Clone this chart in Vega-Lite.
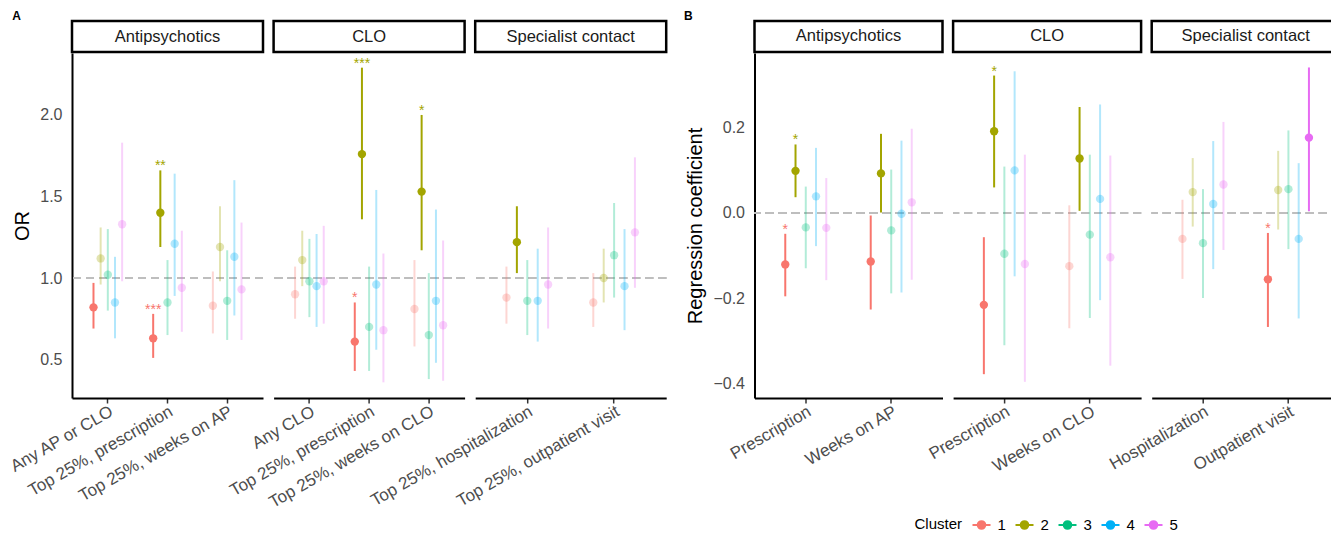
{
  "$schema": "https://vega.github.io/schema/vega-lite/v6.json",
  "padding": {"left": 6, "top": 9, "right": 0, "bottom": 4},
  "config": {
    "font": "Liberation Sans",
    "view": {"stroke": null},
    "axis": {"grid": false, "domainColor": "black", "domainWidth": 2, "labelColor": "#4D4D4D", "labelFontSize": 16, "titleFontSize": 20, "titleFontWeight": "normal", "titleColor": "black", "tickColor": "#333333", "labelLimit": 0},
    "title": {"fontSize": 12, "fontWeight": "bold", "anchor": "start", "color": "black"}
  },
  "datasets": {
    "orA": [
      {"panel": "Antipsychotics", "outcome": "Any AP or CLO", "cluster": "1", "est": 0.82, "lo": 0.69, "hi": 0.97, "sig": "yes", "star": ""},
      {"panel": "Antipsychotics", "outcome": "Any AP or CLO", "cluster": "2", "est": 1.12, "lo": 0.96, "hi": 1.31, "sig": "no", "star": ""},
      {"panel": "Antipsychotics", "outcome": "Any AP or CLO", "cluster": "3", "est": 1.02, "lo": 0.80, "hi": 1.30, "sig": "no", "star": ""},
      {"panel": "Antipsychotics", "outcome": "Any AP or CLO", "cluster": "4", "est": 0.85, "lo": 0.63, "hi": 1.13, "sig": "no", "star": ""},
      {"panel": "Antipsychotics", "outcome": "Any AP or CLO", "cluster": "5", "est": 1.33, "lo": 0.98, "hi": 1.83, "sig": "no", "star": ""},
      {"panel": "Antipsychotics", "outcome": "Top 25%, prescription", "cluster": "1", "est": 0.63, "lo": 0.51, "hi": 0.78, "sig": "yes", "star": "***"},
      {"panel": "Antipsychotics", "outcome": "Top 25%, prescription", "cluster": "2", "est": 1.40, "lo": 1.19, "hi": 1.66, "sig": "yes", "star": "**"},
      {"panel": "Antipsychotics", "outcome": "Top 25%, prescription", "cluster": "3", "est": 0.85, "lo": 0.65, "hi": 1.11, "sig": "no", "star": ""},
      {"panel": "Antipsychotics", "outcome": "Top 25%, prescription", "cluster": "4", "est": 1.21, "lo": 0.89, "hi": 1.64, "sig": "no", "star": ""},
      {"panel": "Antipsychotics", "outcome": "Top 25%, prescription", "cluster": "5", "est": 0.94, "lo": 0.67, "hi": 1.29, "sig": "no", "star": ""},
      {"panel": "Antipsychotics", "outcome": "Top 25%, weeks on AP", "cluster": "1", "est": 0.83, "lo": 0.66, "hi": 1.04, "sig": "no", "star": ""},
      {"panel": "Antipsychotics", "outcome": "Top 25%, weeks on AP", "cluster": "2", "est": 1.19, "lo": 0.98, "hi": 1.44, "sig": "no", "star": ""},
      {"panel": "Antipsychotics", "outcome": "Top 25%, weeks on AP", "cluster": "3", "est": 0.86, "lo": 0.62, "hi": 1.17, "sig": "no", "star": ""},
      {"panel": "Antipsychotics", "outcome": "Top 25%, weeks on AP", "cluster": "4", "est": 1.13, "lo": 0.77, "hi": 1.60, "sig": "no", "star": ""},
      {"panel": "Antipsychotics", "outcome": "Top 25%, weeks on AP", "cluster": "5", "est": 0.93, "lo": 0.62, "hi": 1.34, "sig": "no", "star": ""},
      {"panel": "CLO", "outcome": "Any CLO", "cluster": "1", "est": 0.90, "lo": 0.75, "hi": 1.07, "sig": "no", "star": ""},
      {"panel": "CLO", "outcome": "Any CLO", "cluster": "2", "est": 1.11, "lo": 0.95, "hi": 1.29, "sig": "no", "star": ""},
      {"panel": "CLO", "outcome": "Any CLO", "cluster": "3", "est": 0.98, "lo": 0.76, "hi": 1.24, "sig": "no", "star": ""},
      {"panel": "CLO", "outcome": "Any CLO", "cluster": "4", "est": 0.95, "lo": 0.70, "hi": 1.27, "sig": "no", "star": ""},
      {"panel": "CLO", "outcome": "Any CLO", "cluster": "5", "est": 0.98, "lo": 0.72, "hi": 1.32, "sig": "no", "star": ""},
      {"panel": "CLO", "outcome": "Top 25%, prescription", "cluster": "1", "est": 0.61, "lo": 0.43, "hi": 0.85, "sig": "yes", "star": "*"},
      {"panel": "CLO", "outcome": "Top 25%, prescription", "cluster": "2", "est": 1.76, "lo": 1.36, "hi": 2.29, "sig": "yes", "star": "***"},
      {"panel": "CLO", "outcome": "Top 25%, prescription", "cluster": "3", "est": 0.70, "lo": 0.43, "hi": 1.07, "sig": "no", "star": ""},
      {"panel": "CLO", "outcome": "Top 25%, prescription", "cluster": "4", "est": 0.96, "lo": 0.56, "hi": 1.54, "sig": "no", "star": ""},
      {"panel": "CLO", "outcome": "Top 25%, prescription", "cluster": "5", "est": 0.68, "lo": 0.36, "hi": 1.15, "sig": "no", "star": ""},
      {"panel": "CLO", "outcome": "Top 25%, weeks on CLO", "cluster": "1", "est": 0.81, "lo": 0.58, "hi": 1.11, "sig": "no", "star": ""},
      {"panel": "CLO", "outcome": "Top 25%, weeks on CLO", "cluster": "2", "est": 1.53, "lo": 1.17, "hi": 2.00, "sig": "yes", "star": "*"},
      {"panel": "CLO", "outcome": "Top 25%, weeks on CLO", "cluster": "3", "est": 0.65, "lo": 0.38, "hi": 1.03, "sig": "no", "star": ""},
      {"panel": "CLO", "outcome": "Top 25%, weeks on CLO", "cluster": "4", "est": 0.86, "lo": 0.48, "hi": 1.42, "sig": "no", "star": ""},
      {"panel": "CLO", "outcome": "Top 25%, weeks on CLO", "cluster": "5", "est": 0.71, "lo": 0.37, "hi": 1.23, "sig": "no", "star": ""},
      {"panel": "Specialist contact", "outcome": "Top 25%, hospitalization", "cluster": "1", "est": 0.88, "lo": 0.72, "hi": 1.07, "sig": "no", "star": ""},
      {"panel": "Specialist contact", "outcome": "Top 25%, hospitalization", "cluster": "2", "est": 1.22, "lo": 1.03, "hi": 1.44, "sig": "yes", "star": ""},
      {"panel": "Specialist contact", "outcome": "Top 25%, hospitalization", "cluster": "3", "est": 0.86, "lo": 0.65, "hi": 1.11, "sig": "no", "star": ""},
      {"panel": "Specialist contact", "outcome": "Top 25%, hospitalization", "cluster": "4", "est": 0.86, "lo": 0.61, "hi": 1.18, "sig": "no", "star": ""},
      {"panel": "Specialist contact", "outcome": "Top 25%, hospitalization", "cluster": "5", "est": 0.96, "lo": 0.69, "hi": 1.31, "sig": "no", "star": ""},
      {"panel": "Specialist contact", "outcome": "Top 25%, outpatient visit", "cluster": "1", "est": 0.85, "lo": 0.70, "hi": 1.03, "sig": "no", "star": ""},
      {"panel": "Specialist contact", "outcome": "Top 25%, outpatient visit", "cluster": "2", "est": 1.00, "lo": 0.85, "hi": 1.18, "sig": "no", "star": ""},
      {"panel": "Specialist contact", "outcome": "Top 25%, outpatient visit", "cluster": "3", "est": 1.14, "lo": 0.88, "hi": 1.46, "sig": "no", "star": ""},
      {"panel": "Specialist contact", "outcome": "Top 25%, outpatient visit", "cluster": "4", "est": 0.95, "lo": 0.68, "hi": 1.30, "sig": "no", "star": ""},
      {"panel": "Specialist contact", "outcome": "Top 25%, outpatient visit", "cluster": "5", "est": 1.28, "lo": 0.94, "hi": 1.74, "sig": "no", "star": ""}
    ],
    "coefB": [
      {"panel": "Antipsychotics", "outcome": "Prescription", "cluster": "1", "est": -0.121, "lo": -0.196, "hi": -0.049, "sig": "yes", "star": "*"},
      {"panel": "Antipsychotics", "outcome": "Prescription", "cluster": "2", "est": 0.099, "lo": 0.037, "hi": 0.161, "sig": "yes", "star": "*"},
      {"panel": "Antipsychotics", "outcome": "Prescription", "cluster": "3", "est": -0.034, "lo": -0.130, "hi": 0.062, "sig": "no", "star": ""},
      {"panel": "Antipsychotics", "outcome": "Prescription", "cluster": "4", "est": 0.039, "lo": -0.078, "hi": 0.153, "sig": "no", "star": ""},
      {"panel": "Antipsychotics", "outcome": "Prescription", "cluster": "5", "est": -0.035, "lo": -0.158, "hi": 0.082, "sig": "no", "star": ""},
      {"panel": "Antipsychotics", "outcome": "Weeks on AP", "cluster": "1", "est": -0.114, "lo": -0.227, "hi": -0.006, "sig": "yes", "star": ""},
      {"panel": "Antipsychotics", "outcome": "Weeks on AP", "cluster": "2", "est": 0.093, "lo": 0.001, "hi": 0.186, "sig": "yes", "star": ""},
      {"panel": "Antipsychotics", "outcome": "Weeks on AP", "cluster": "3", "est": -0.041, "lo": -0.189, "hi": 0.102, "sig": "no", "star": ""},
      {"panel": "Antipsychotics", "outcome": "Weeks on AP", "cluster": "4", "est": -0.002, "lo": -0.187, "hi": 0.170, "sig": "no", "star": ""},
      {"panel": "Antipsychotics", "outcome": "Weeks on AP", "cluster": "5", "est": 0.025, "lo": -0.157, "hi": 0.198, "sig": "no", "star": ""},
      {"panel": "CLO", "outcome": "Prescription", "cluster": "1", "est": -0.216, "lo": -0.379, "hi": -0.057, "sig": "yes", "star": ""},
      {"panel": "CLO", "outcome": "Prescription", "cluster": "2", "est": 0.192, "lo": 0.060, "hi": 0.323, "sig": "yes", "star": "*"},
      {"panel": "CLO", "outcome": "Prescription", "cluster": "3", "est": -0.096, "lo": -0.311, "hi": 0.109, "sig": "no", "star": ""},
      {"panel": "CLO", "outcome": "Prescription", "cluster": "4", "est": 0.100, "lo": -0.149, "hi": 0.333, "sig": "no", "star": ""},
      {"panel": "CLO", "outcome": "Prescription", "cluster": "5", "est": -0.120, "lo": -0.397, "hi": 0.137, "sig": "no", "star": ""},
      {"panel": "CLO", "outcome": "Weeks on CLO", "cluster": "1", "est": -0.125, "lo": -0.271, "hi": 0.018, "sig": "no", "star": ""},
      {"panel": "CLO", "outcome": "Weeks on CLO", "cluster": "2", "est": 0.128, "lo": 0.005, "hi": 0.249, "sig": "yes", "star": ""},
      {"panel": "CLO", "outcome": "Weeks on CLO", "cluster": "3", "est": -0.051, "lo": -0.247, "hi": 0.137, "sig": "no", "star": ""},
      {"panel": "CLO", "outcome": "Weeks on CLO", "cluster": "4", "est": 0.033, "lo": -0.205, "hi": 0.255, "sig": "no", "star": ""},
      {"panel": "CLO", "outcome": "Weeks on CLO", "cluster": "5", "est": -0.104, "lo": -0.359, "hi": 0.135, "sig": "no", "star": ""},
      {"panel": "Specialist contact", "outcome": "Hospitalization", "cluster": "1", "est": -0.061, "lo": -0.155, "hi": 0.031, "sig": "no", "star": ""},
      {"panel": "Specialist contact", "outcome": "Hospitalization", "cluster": "2", "est": 0.049, "lo": -0.032, "hi": 0.129, "sig": "no", "star": ""},
      {"panel": "Specialist contact", "outcome": "Hospitalization", "cluster": "3", "est": -0.071, "lo": -0.200, "hi": 0.056, "sig": "no", "star": ""},
      {"panel": "Specialist contact", "outcome": "Hospitalization", "cluster": "4", "est": 0.021, "lo": -0.132, "hi": 0.169, "sig": "no", "star": ""},
      {"panel": "Specialist contact", "outcome": "Hospitalization", "cluster": "5", "est": 0.067, "lo": -0.087, "hi": 0.214, "sig": "no", "star": ""},
      {"panel": "Specialist contact", "outcome": "Outpatient visit", "cluster": "1", "est": -0.156, "lo": -0.268, "hi": -0.047, "sig": "yes", "star": "*"},
      {"panel": "Specialist contact", "outcome": "Outpatient visit", "cluster": "2", "est": 0.054, "lo": -0.039, "hi": 0.146, "sig": "no", "star": ""},
      {"panel": "Specialist contact", "outcome": "Outpatient visit", "cluster": "3", "est": 0.056, "lo": -0.085, "hi": 0.194, "sig": "no", "star": ""},
      {"panel": "Specialist contact", "outcome": "Outpatient visit", "cluster": "4", "est": -0.061, "lo": -0.248, "hi": 0.117, "sig": "no", "star": ""},
      {"panel": "Specialist contact", "outcome": "Outpatient visit", "cluster": "5", "est": 0.177, "lo": 0.004, "hi": 0.342, "sig": "yes", "star": ""}
    ]
  },
  "resolve": {"legend": {"color": "independent"}},
  "spacing": 15.5,
  "hconcat": [
    {
      "title": {"text": "A", "offset": -3, "dx": 6, "frame": "bounds"},
      "data": {"name": "orA"},
      "facet": {"column": {"field": "panel", "type": "nominal", "header": null, "sort": ["Antipsychotics", "CLO", "Specialist contact"]}},
      "bounds": "flush",
      "spacing": 10.6,
      "resolve": {"scale": {"x": "independent", "xOffset": "independent"}},
      "spec": {
        "width": 191, "height": 345,
        "layer": [
          {
            "transform": [{"aggregate": [{"op": "count", "as": "n"}], "groupby": ["panel"]}],
            "mark": {"type": "rect", "fill": "white", "stroke": "black", "strokeWidth": 2.5},
            "encoding": {"y": {"datum": 2.386, "type": "quantitative"}, "y2": {"datum": 2.576}}
          },
          {
            "transform": [{"aggregate": [{"op": "count", "as": "n"}], "groupby": ["panel"]}],
            "mark": {"type": "text", "fontSize": 16.5, "color": "#1A1A1A"},
            "encoding": {"y": {"datum": 2.481, "type": "quantitative"}, "text": {"field": "panel", "type": "nominal"}}
          },
          {
            "mark": {"type": "rule", "strokeDash": [8, 5], "color": "#BEBEBE", "strokeWidth": 1.5},
            "encoding": {"y": {"datum": 1, "type": "quantitative"}}
          },
          {
            "mark": {"type": "rule", "strokeWidth": 2},
            "encoding": {
              "x": {"field": "outcome", "type": "nominal", "sort": null, "scale": {"type": "band", "paddingInner": 0.4, "paddingOuter": 0.3},
                    "axis": {"title": null, "labelAngle": -30, "labelAlign": "right", "labelBaseline": "top", "labelFontSize": 17, "tickSize": 5, "tickWidth": 1.5, "labelPadding": 0}},
              "xOffset": {"field": "cluster", "type": "nominal", "scale": {"paddingInner": 0, "paddingOuter": 0}},
              "color": {"field": "cluster", "type": "nominal", "scale": {"domain": ["1", "2", "3", "4", "5"], "range": ["#F8766D", "#A3A500", "#00BF7D", "#00B0F6", "#E76BF3"]}, "legend": null},
              "y": {"field": "lo", "type": "quantitative", "scale": {"domain": [0.264, 2.38], "nice": false, "zero": false},
                    "axis": {"title": "OR", "values": [0.5, 1, 1.5, 2], "format": ".1f", "ticks": false, "tickSize": 0, "labelPadding": 10, "titlePadding": 7}},
              "y2": {"field": "hi"},
              "opacity": {"field": "sig", "type": "nominal", "scale": {"domain": ["yes", "no"], "range": [1, 0.3]}, "legend": null}
            }
          },
          {
            "mark": {"type": "circle", "size": 70, "opacity": 1},
            "encoding": {
              "x": {"field": "outcome", "type": "nominal", "sort": null},
              "xOffset": {"field": "cluster", "type": "nominal"},
              "color": {"field": "cluster", "type": "nominal", "legend": null},
              "y": {"field": "est", "type": "quantitative"},
              "opacity": {"field": "sig", "type": "nominal", "legend": null}
            }
          },
          {
            "mark": {"type": "text", "fontSize": 14, "baseline": "alphabetic", "dy": 0},
            "encoding": {
              "x": {"field": "outcome", "type": "nominal", "sort": null},
              "xOffset": {"field": "cluster", "type": "nominal"},
              "color": {"field": "cluster", "type": "nominal", "legend": null},
              "y": {"field": "hi", "type": "quantitative"},
              "text": {"field": "star", "type": "nominal"}
            }
          }
        ]
      }
    },
    {
      "title": {"text": "B", "offset": -3, "dx": -2, "frame": "bounds"},
      "data": {"name": "coefB"},
      "facet": {"column": {"field": "panel", "type": "nominal", "header": null, "sort": ["Antipsychotics", "CLO", "Specialist contact"]}},
      "bounds": "flush",
      "spacing": 10.6,
      "resolve": {"scale": {"x": "independent", "xOffset": "independent"}},
      "spec": {
        "width": 188, "height": 345,
        "layer": [
          {
            "transform": [{"aggregate": [{"op": "count", "as": "n"}], "groupby": ["panel"]}],
            "mark": {"type": "rect", "fill": "white", "stroke": "black", "strokeWidth": 2.5},
            "encoding": {"y": {"datum": 0.3784, "type": "quantitative"}, "y2": {"datum": 0.4512}}
          },
          {
            "transform": [{"aggregate": [{"op": "count", "as": "n"}], "groupby": ["panel"]}],
            "mark": {"type": "text", "fontSize": 16.5, "color": "#1A1A1A"},
            "encoding": {"y": {"datum": 0.4148, "type": "quantitative"}, "text": {"field": "panel", "type": "nominal"}}
          },
          {
            "mark": {"type": "rule", "strokeDash": [8, 5], "color": "#BEBEBE", "strokeWidth": 1.5},
            "encoding": {"y": {"datum": 0, "type": "quantitative"}}
          },
          {
            "mark": {"type": "rule", "strokeWidth": 2},
            "encoding": {
              "x": {"field": "outcome", "type": "nominal", "sort": null, "scale": {"type": "band", "paddingInner": 0.4, "paddingOuter": 0.3},
                    "axis": {"title": null, "labelAngle": -30, "labelAlign": "right", "labelBaseline": "top", "labelFontSize": 17, "tickSize": 5, "tickWidth": 1.5, "labelPadding": 0}},
              "xOffset": {"field": "cluster", "type": "nominal", "scale": {"paddingInner": 0, "paddingOuter": 0}},
              "color": {"field": "cluster", "type": "nominal", "scale": {"domain": ["1", "2", "3", "4", "5"], "range": ["#F8766D", "#A3A500", "#00BF7D", "#00B0F6", "#E76BF3"]}},
              "y": {"field": "lo", "type": "quantitative", "scale": {"domain": [-0.435, 0.376], "nice": false, "zero": false},
                    "axis": {"title": "Regression coefficient", "values": [-0.4, -0.2, 0, 0.2], "labelExpr": "(datum.value < 0 ? '\u2212' : '') + format(abs(datum.value), '.1f')", "ticks": false, "tickSize": 0, "labelPadding": 10, "titlePadding": 7}},
              "y2": {"field": "hi"},
              "opacity": {"field": "sig", "type": "nominal", "scale": {"domain": ["yes", "no"], "range": [1, 0.3]}, "legend": null}
            }
          },
          {
            "mark": {"type": "circle", "size": 70, "opacity": 1},
            "encoding": {
              "x": {"field": "outcome", "type": "nominal", "sort": null},
              "xOffset": {"field": "cluster", "type": "nominal"},
              "y": {"field": "est", "type": "quantitative"},
              "opacity": {"field": "sig", "type": "nominal", "legend": null},
              "color": {"field": "cluster", "type": "nominal",
                "legend": {"title": "Cluster", "orient": "none", "legendX": 160, "legendY": 462, "direction": "horizontal", "titleOrient": "left", "symbolType": "M-1,0L1,0M0.42,0A0.42,0.42,0,1,1,-0.42,0A0.42,0.42,0,1,1,0.42,0Z", "symbolSize": 324, "symbolStrokeWidth": 2, "symbolOpacity": 1, "labelFontSize": 15, "titleFontSize": 15, "titleFontWeight": "normal", "titleColor": "black", "labelColor": "black", "labelOffset": 6, "columnPadding": 5, "titlePadding": 9,
                  "encode": {"symbols": {"update": {"stroke": {"scale": "color", "field": "value"}, "fill": {"scale": "color", "field": "value"}, "opacity": {"value": 1}, "fillOpacity": {"value": 1}, "strokeOpacity": {"value": 1}}}}}}
            }
          },
          {
            "mark": {"type": "text", "fontSize": 14, "baseline": "alphabetic", "dy": 0},
            "encoding": {
              "x": {"field": "outcome", "type": "nominal", "sort": null},
              "xOffset": {"field": "cluster", "type": "nominal"},
              "color": {"field": "cluster", "type": "nominal"},
              "y": {"field": "hi", "type": "quantitative"},
              "text": {"field": "star", "type": "nominal"}
            }
          }
        ]
      }
    }
  ]
}
